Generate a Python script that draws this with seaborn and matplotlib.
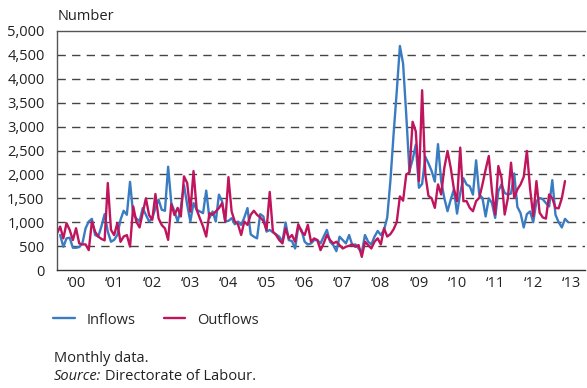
import numpy as np
import pandas as pd
import matplotlib
matplotlib.use("Agg")
import matplotlib.pyplot as plt
import seaborn as sns

# Monthly numbers, Jan 2000 onwards (inflows series starts Feb 2000)
inflows = [
    np.nan, 732, 486, 662, 676, 465, 465, 480, 556, 873, 1014, 1070,      # 2000
    732, 700, 915, 1169, 802, 591, 630, 732, 1049, 1239, 1155, 1844,      # 2001
    1162, 1077, 1020, 1295, 1155, 1014, 1084, 1295, 1471, 1260, 1239, 2161,  # 2002
    1400, 1225, 1014, 1300, 1774, 1366, 1014, 1400, 1260, 1225, 1190, 1661,  # 2003
    1084, 1225, 1014, 1577, 1436, 1014, 1028, 1084, 957, 1014, 943, 1100,    # 2004
    1295, 746, 697, 662, 1169, 1120, 803, 838, 788, 746, 697, 591,        # 2005
    993, 626, 605, 450, 915, 838, 591, 535, 556, 626, 626, 556,           # 2006
    700, 838, 591, 521, 394, 697, 626, 556, 732, 521, 535, 450,           # 2007
    366, 732, 591, 535, 697, 817, 732, 838, 1096, 1858, 2829, 3730,       # 2008
    4687, 4320, 3245, 2066, 2309, 2621, 1720, 1800, 2370, 2230, 2070, 1850,  # 2009
    2633, 1859, 1500, 1230, 1470, 1685, 1180, 1612, 1920, 1788, 1752, 1577,  # 2010
    2295, 1577, 1507, 1120, 1500, 1400, 1090, 1650, 1790, 1612, 1577, 1600,  # 2011
    2020, 1320, 1190, 890, 1169, 1225, 1000, 1440, 1507, 1480, 1400, 1330,   # 2012
    1880, 1155, 1000, 890, 1070, 1000,                                      # 2013
]

outflows = [
    767, 908, 662, 979, 838, 626, 873, 556, 535, 535, 415, 1014,          # 2000
    800, 700, 650, 620, 1820, 840, 730, 980, 590, 700, 730, 490,          # 2001
    1330, 1010, 890, 1190, 1500, 1150, 1050, 1590, 1080, 940, 870, 630,   # 2002
    1380, 1150, 1300, 1120, 1960, 1820, 1220, 2070, 1260, 1080, 910, 700,  # 2003
    1190, 1155, 1225, 1295, 1400, 1014, 1943, 1225, 1014, 957, 732, 1014,  # 2004
    943, 1155, 1239, 1155, 1100, 1028, 838, 1633, 803, 732, 626, 556,     # 2005
    873, 662, 732, 591, 957, 803, 732, 943, 591, 662, 626, 415,           # 2006
    560, 732, 626, 556, 591, 521, 450, 486, 507, 535, 486, 521,           # 2007
    275, 591, 521, 450, 591, 662, 535, 873, 700, 750, 850, 1000,          # 2008
    1540, 1450, 2000, 2040, 3100, 2900, 1860, 3760, 2000, 1550, 1500, 1300,  # 2009
    1790, 1580, 2140, 2490, 2140, 1700, 1440, 2560, 1440, 1440, 1300, 1230,  # 2010
    1440, 1510, 1790, 2100, 2385, 1650, 1160, 2175, 1930, 1160, 1500, 2245,  # 2011
    1510, 1685, 1790, 1950, 2490, 1700, 1125, 1860, 1200, 1100, 1075, 1580,  # 2012
    1500, 1300, 1290, 1500, 1860,                                           # 2013
]

years = list(range(2000, 2014))
year_labels = ["\u2018%02d" % (y % 100) for y in years]
y_ticks = list(range(0, 5001, 500))

blue = "#3a7cc2"
red = "#c0145c"


def to_frame(values, name):
    x = 2000 + np.arange(len(values)) / 12
    return pd.DataFrame({"year": x, "value": values, "series": name})


df = pd.concat([to_frame(inflows, "Inflows"), to_frame(outflows, "Outflows")],
               ignore_index=True).dropna()

sns.set_style("white")
plt.rcParams["font.family"] = ["Open Sans", "DejaVu Sans"]
plt.rcParams["font.size"] = 10.5

fig = plt.figure(figsize=(5.87, 3.88), dpi=100)
ax = fig.add_axes([57 / 587, 118 / 388, 528 / 587, 239 / 388])

sns.lineplot(data=df, x="year", y="value", hue="series",
             hue_order=["Inflows", "Outflows"], palette=[blue, red],
             estimator=None, errorbar=None, linewidth=1.7, legend=False, ax=ax)

ax.set_xlim(2000, 2000 + 528 / 38.1)
ax.set_ylim(0, 5000)
ax.set_xlabel("")
ax.set_ylabel("")

# dashed gridlines
for v in y_ticks[1:-1]:
    ax.axhline(v, color="#444444", lw=1.0, ls=(0, (6, 4.5)), zorder=0)

ax.set_yticks(y_ticks)
ax.set_yticklabels([f"{v:,}" for v in y_ticks])
ax.tick_params(axis="y", length=0, pad=9, labelsize=10.5, colors="#222222")

ax.set_xticks(years)
ax.set_xticklabels([])
ax.set_xticks([y + 0.5 for y in years], minor=True)
ax.set_xticklabels(year_labels, minor=True)
ax.tick_params(axis="x", which="major", direction="out", length=7,
               width=0.9, color="#555555")
ax.tick_params(axis="x", which="minor", length=0, pad=4, labelsize=10.5,
               colors="#222222")

for side in ["left", "top", "bottom"]:
    ax.spines[side].set_visible(True)
    ax.spines[side].set_color("#555555")
    ax.spines[side].set_linewidth(1.0)
ax.spines["bottom"].set_color("#333333")
ax.spines["right"].set_visible(False)

fig.text(58 / 587, 1 - 16 / 388, "Number", va="center", ha="left",
         fontsize=10.5, color="#222222")

handles = ax.get_lines()[:2]
fig.legend(handles, ["Inflows", "Outflows"], loc="center left",
           bbox_to_anchor=(46 / 587, 1 - 320 / 388), ncol=2, frameon=False,
           borderpad=0, handlelength=1.5, handletextpad=0.8,
           columnspacing=1.9, fontsize=10.5)

fig.text(54 / 587, 1 - 358 / 388, "Monthly data.", va="center", ha="left",
         fontsize=10.5, color="#222222")
src = fig.text(54 / 587, 1 - 376 / 388, "Source:", va="center", ha="left",
               fontsize=10.5, style="italic", color="#222222")
fig.canvas.draw()
bb = src.get_window_extent()
fig.text((bb.x1 + 4) / 587, 1 - 376 / 388, "Directorate of Labour.",
         va="center", ha="left", fontsize=10.5, color="#222222")

fig.savefig("out.png", dpi=100)
